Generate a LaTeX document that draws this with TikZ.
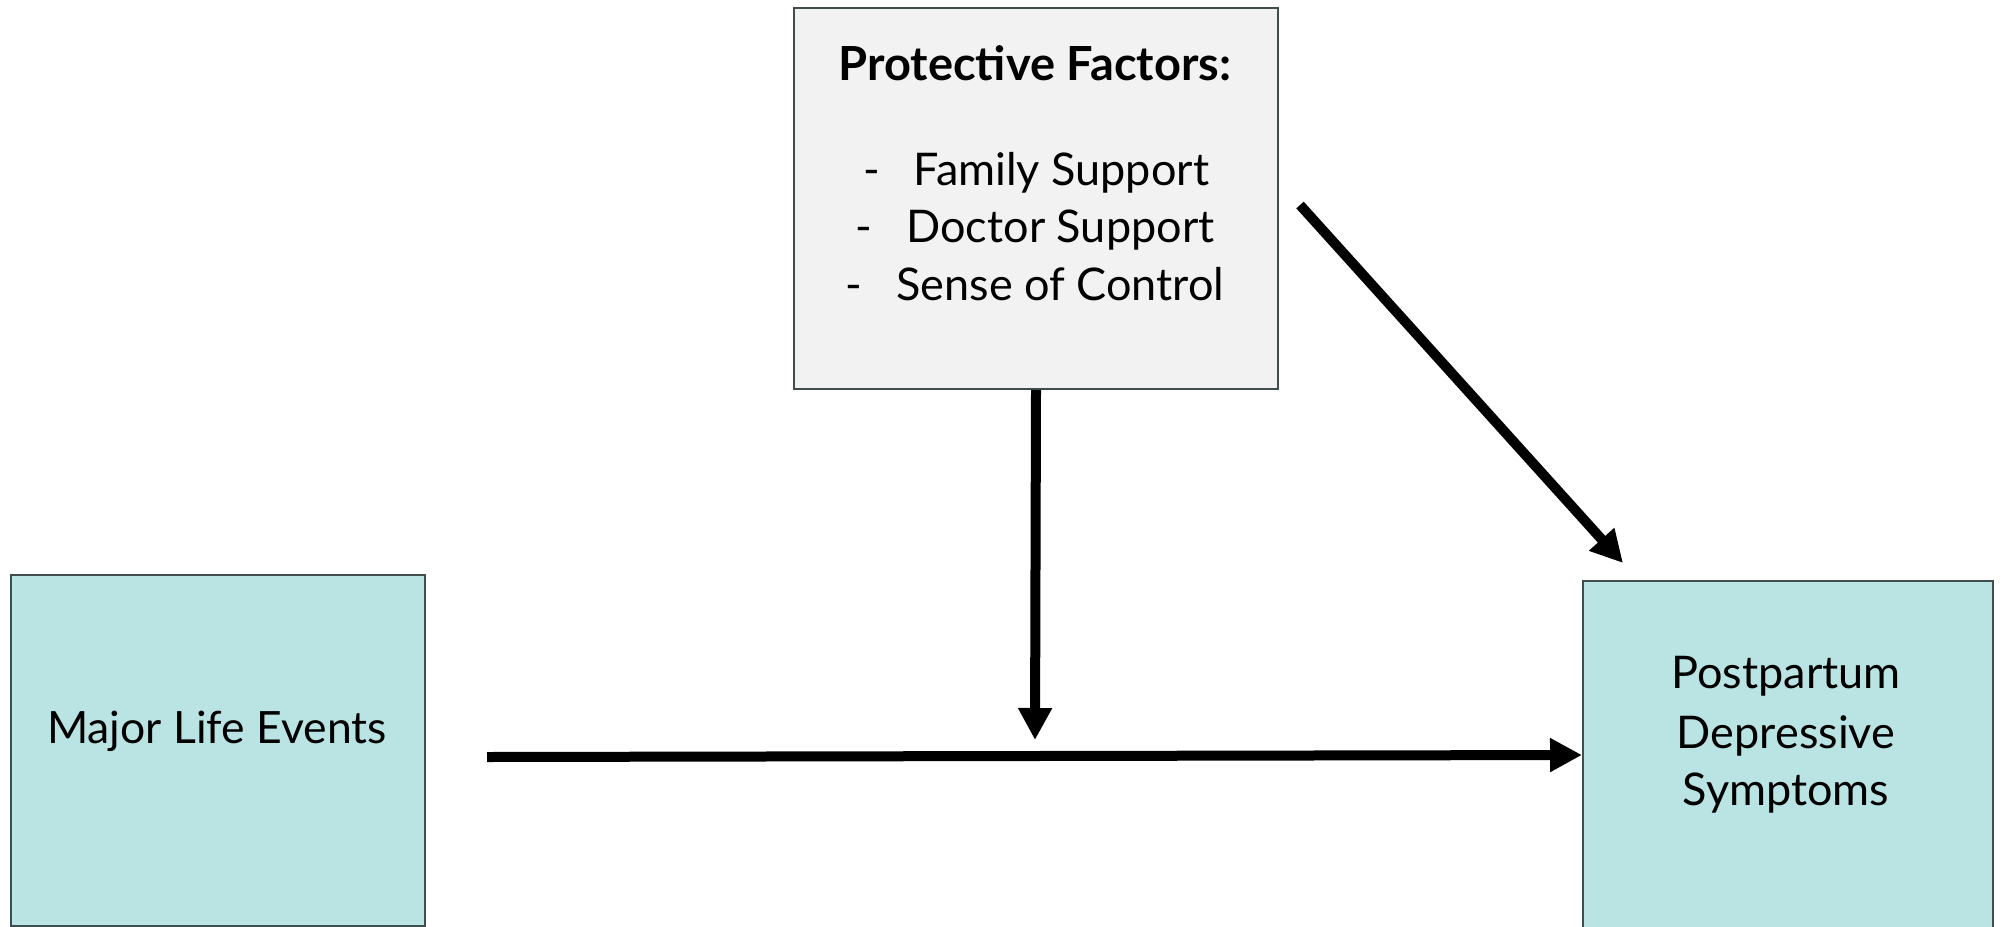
\documentclass[tikz,border=0pt]{standalone}
\usepackage{fontspec}
\setmainfont{Lato}
\usetikzlibrary{arrows.meta}
\definecolor{teal}{HTML}{B9E4E3}
\definecolor{boxline}{HTML}{3F4D4D}
\definecolor{grayfill}{HTML}{F2F2F2}
\begin{document}
\begin{tikzpicture}[x=1pt,y=-1pt,
  boxshape/.style={draw=boxline,line width=2pt,inner sep=0pt,anchor=north west},
  tealbox/.style={boxshape,fill=teal},
  graybox/.style={boxshape,fill=grayfill},
  txt/.style={anchor=base,inner sep=0pt,font=\fontsize{44.5}{54}\selectfont},
  itemtxt/.style={anchor=base,inner sep=0pt,font=\fontsize{45}{54}\selectfont},
  titletxt/.style={anchor=base,inner sep=0pt,font=\bfseries\fontsize{47}{56}\selectfont},
  arr/.style={line width=10pt,-{Triangle[length=32pt,width=32pt]}}
]
\useasboundingbox (0,0) rectangle (2007,926);
\begin{scope}
\clip (0,0) rectangle (2007,926);
\node[graybox,minimum width=484pt,minimum height=381pt] (pf) at (793,7) {};
\node[tealbox,minimum width=414pt,minimum height=351pt] (mle) at (10,574) {};
\node[tealbox,minimum width=410pt,minimum height=348pt] (pds) at (1582,580) {};
\end{scope}
% texts
\node[titletxt] (t0) at (1035,80) {Protective Factors:};
\node[itemtxt] (t1) at (1036,185) {-\hspace{34pt}Family Support};
\node[itemtxt] (t2) at (1035,242) {-\hspace{34pt}Doctor Support};
\node[itemtxt] (t3) at (1035,300) {-\hspace{34pt}Sense of Control};
\node[txt] (m1) at (217,743) {Major Life Events};
\node[itemtxt] (p1) at (1786,688) {Postpartum};
\node[itemtxt] (p2) at (1786,748) {Depressive};
\node[itemtxt] (p3) at (1786,805) {Symptoms};
% connectors
\coordinate (hs) at (487,757);
\coordinate (vt) at (1035,740);
\coordinate (ds) at (1300,205);
\coordinate (de) at (1623,563);
\draw[arr] (hs) -- (pds.west);
\draw[arr] (pf.south) -- (vt);
\draw[arr] (ds) -- (de);
\end{tikzpicture}
\end{document}
